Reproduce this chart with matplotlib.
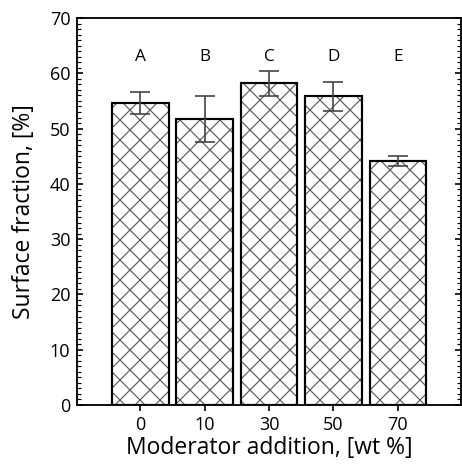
import numpy as np
import matplotlib.pyplot as plt
from matplotlib.ticker import MultipleLocator

plt.rcParams['font.family'] = ['Open Sans', 'DejaVu Sans']
plt.rcParams['hatch.linewidth'] = 0.7

categories = ['0', '10', '30', '50', '70']
values = [54.6, 51.7, 58.2, 55.8, 44.1]
errors = [2.0, 4.1, 2.3, 2.6, 0.9]
letters = ['A', 'B', 'C', 'D', 'E']

# dpi 120 so that the 'xx' hatch gets the right spacing
fig = plt.figure(figsize=(462 / 120, 466 / 120), dpi=120)
ax = fig.add_axes([0.1667, 0.1309, 0.8313, 0.8305])

x = np.arange(len(categories))
# hatch in grey, outline in black
ax.bar(x, values, width=0.88, color='white', edgecolor='#5a5a5a', linewidth=0,
       hatch='xx', zorder=2)
ax.bar(x, values, width=0.88, fill=False, edgecolor='black', linewidth=1.3,
       zorder=2.5)
ax.errorbar(x, values, yerr=errors, fmt='none', ecolor='#444444', elinewidth=1.0,
            capsize=5.8, capthick=1.0, zorder=3)
for xi, lab in zip(x, letters):
    ax.text(xi, 62.9, lab, ha='center', va='center', fontsize=10.3)

ax.set_xlim(-0.98, 4.98)
ax.set_ylim(0, 70)
ax.set_xticks(x)
ax.set_xticklabels(categories)
ax.yaxis.set_major_locator(MultipleLocator(10))
ax.yaxis.set_minor_locator(MultipleLocator(1))
ax.tick_params(axis='y', which='major', direction='in', length=3.8, width=1.0,
               right=True, labelsize=10.8, pad=4)
ax.tick_params(axis='y', which='minor', direction='in', length=2.2, width=0.7,
               right=True)
ax.tick_params(axis='x', which='major', direction='out', length=3.5, width=1.0,
               labelsize=10.8, pad=3)
for s in ax.spines.values():
    s.set_linewidth(1.1)

ax.set_xlabel('Moderator addition, [wt %]', fontsize=13.7, labelpad=1)
ax.set_ylabel('Surface fraction, [%]', fontsize=13.7, labelpad=8)

fig.savefig('out.png', dpi=120)
